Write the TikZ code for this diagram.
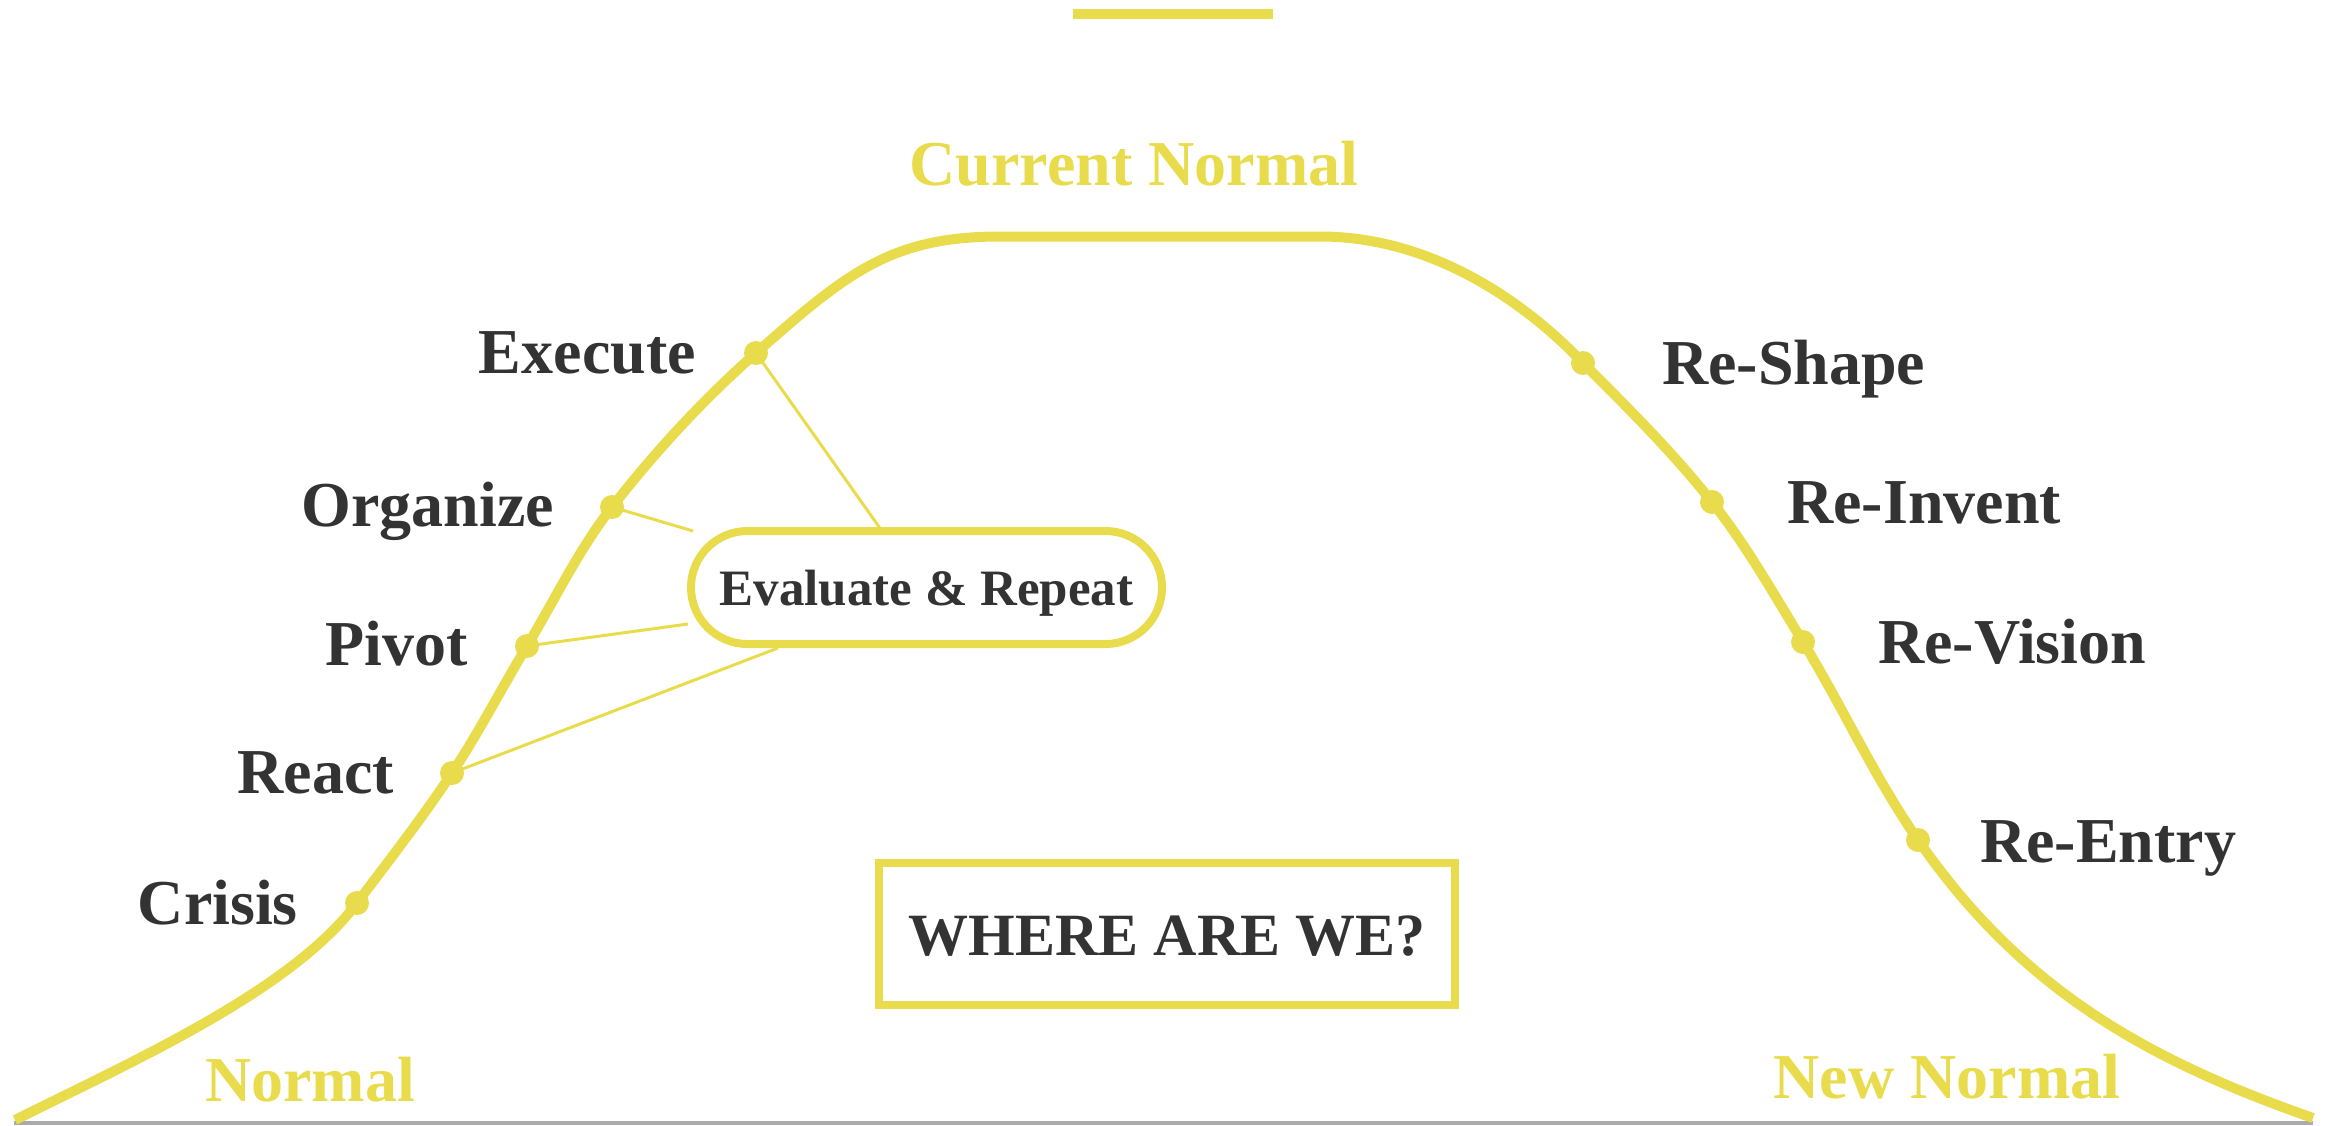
\documentclass[tikz,border=0pt]{standalone}
\usepackage{fontspec}
\setmainfont{Liberation Serif}
\usetikzlibrary{shapes.misc}
\definecolor{ylw}{RGB}{233,220,76}
\definecolor{ink}{RGB}{51,51,51}
\definecolor{rulegray}{RGB}{170,170,170}
\begin{document}
\begin{tikzpicture}[x=1pt,y=-1pt,
  dot/.style={circle,fill=ylw,inner sep=0pt,minimum size=24pt},
  lbl/.style={text=ink,font=\fontsize{64}{70}\selectfont\bfseries,inner sep=0pt},
  ylbl/.style={text=ylw,font=\fontsize{64}{70}\selectfont\bfseries,inner sep=0pt},
  curve/.style={draw=ylw,line width=10pt,line join=round},
  link/.style={draw=ylw,line width=3pt}]

\useasboundingbox (0,0) rectangle (2325,1125);

% base rule and top bar
\fill[rulegray] (14,1120.5) rectangle (2313,1125);
\fill[ylw] (1073,9) rectangle (1273,19);

% the curve
\draw[curve] (15,1120)
  .. controls (135,1060) and (291,991) .. (357,903)
  .. controls (389.4,859.8) and (422.2,818) .. (452,773)
  .. controls (479,732.1) and (501.8,688) .. (527,646)
  .. controls (554.8,599.7) and (578.7,549.6) .. (612,507)
  .. controls (655.1,451.8) and (703.5,399.2) .. (756,353)
  .. controls (846,273.8) and (890,236.5) .. (1000,236.5)
  -- (1320,236.5)
  .. controls (1440,236.5) and (1535,312) .. (1583,363)
  .. controls (1627.5,407.5) and (1673,452.5) .. (1712,502)
  .. controls (1746.7,546) and (1773.9,594.2) .. (1803,642)
  .. controls (1842.5,706.9) and (1874.7,777.7) .. (1918,840)
  .. controls (2020.6,987.6) and (2143,1058.6) .. (2313,1118);

% boxes
\node[rounded rectangle,draw=ylw,line width=8pt,minimum width=471pt,minimum height=113pt,
      inner sep=0pt,text=ink,font=\fontsize{51}{56}\selectfont\bfseries,
      text height=35pt,text depth=0pt] (eval) at (926.5,587.5) {Evaluate \& Repeat};
\node[rectangle,draw=ylw,line width=8pt,minimum width=576pt,minimum height=142pt,
      inner sep=0pt,text=ink,font=\fontsize{60}{66}\selectfont\bfseries,
      text height=43pt,text depth=0pt] (where) at (1167,934) {WHERE ARE WE?};

% connector ends
\coordinate (eA) at (882,531);
\coordinate (eB) at (693,531);
\coordinate (eC) at (688,624);
\coordinate (eD) at (778,648);

% dots
\node[dot] (crisis) at (357,903) {};
\node[dot] (react) at (452,773) {};
\node[dot] (pivot) at (527,646) {};
\node[dot] (organize) at (612,507) {};
\node[dot] (execute) at (756,353) {};
\node[dot] (reshape) at (1583,363) {};
\node[dot] (reinvent) at (1712,502) {};
\node[dot] (revision) at (1803,642) {};
\node[dot] (reentry) at (1918,840) {};

% connectors
\draw[link] (execute.center) -- (eA);
\draw[link] (organize.center) -- (eB);
\draw[link] (pivot.center) -- (eC);
\draw[link] (react.center) -- (eD);

% left labels
\node[lbl,anchor=base east] (tcrisis) at (298,924) {Crisis};
\node[lbl,anchor=base east] (treact) at (394,793) {React};
\node[lbl,anchor=base east] (tpivot) at (468,665) {Pivot};
\node[lbl,anchor=base east] (torganize) at (554,526) {Organize};
\node[lbl,anchor=base east] (texecute) at (696,373) {Execute};

% right labels
\node[lbl,anchor=base west] (treshape) at (1662,384) {Re-Shape};
\node[lbl,anchor=base west] (treinvent) at (1787,523) {Re-Invent};
\node[lbl,anchor=base west] (trevision) at (1878,663) {Re-Vision};
\node[lbl,anchor=base west] (treentry) at (1980,862) {Re-Entry};

% yellow labels
\node[ylbl,anchor=base] (tcurrent) at (1134,185) {Current Normal};
\node[ylbl,anchor=base west] (tnormal) at (205,1101) {Normal};
\node[ylbl,anchor=base] (tnew) at (1947,1098) {New Normal};
\end{tikzpicture}
\end{document}
